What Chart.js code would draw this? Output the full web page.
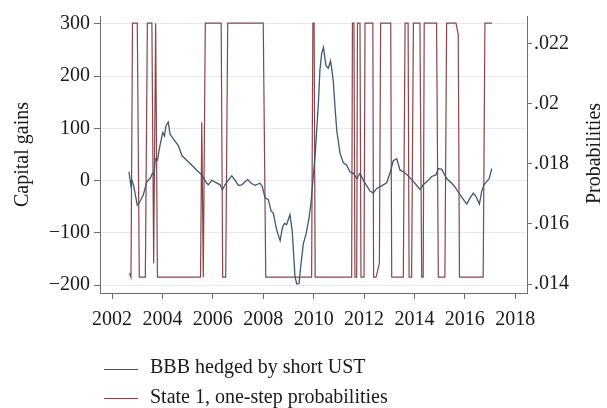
<!DOCTYPE html>
<html>
<head>
<meta charset="utf-8">
<title>Capital gains and state 1 probabilities</title>
<script src="https://cdn.jsdelivr.net/npm/chart.js@4.4.0/dist/chart.umd.min.js"></script>
<style>
    body { margin: 0; background: #fff; }
    #wrap { position: relative; width: 607px; height: 408px; }
    #chart { position: absolute; left: 0; top: 0; }
    .legend-row { position: absolute; left: 104px; height: 20px; font: 20px "Liberation Serif", serif; line-height: 20px; color: #1a1a1a; white-space: nowrap; }
    .legend-row .swatch { position: absolute; left: 0; width: 34px; height: 0; border-top: 1.3px solid; }
    .legend-row .label { position: absolute; left: 46px; top: 0; }
</style>
</head>
<body>
<div id="wrap">
    <canvas id="chart" width="607" height="408"></canvas>
    <div class="legend-row" style="top:356px"><span class="swatch" style="top:13px;border-color:#3d5872"></span><span class="label">BBB hedged by short UST</span></div>
    <div class="legend-row" style="top:386px"><span class="swatch" style="top:12px;border-color:#8b4449"></span><span class="label">State 1, one-step probabilities</span></div>
</div>
<script>
// Data

// BBB hedged by short UST (capital gains, left axis)
const bbbYears = [
    2002.67, 2002.74, 2002.78, 2002.85, 2003.00, 2003.11, 2003.24, 2003.38, 2003.51, 2003.60,
    2003.67, 2003.71, 2003.80, 2003.90, 2004.01, 2004.08, 2004.14, 2004.23, 2004.30, 2004.43,
    2004.63, 2004.77, 2004.96, 2005.16, 2005.36, 2005.56, 2005.76, 2005.82, 2005.96, 2006.09,
    2006.29, 2006.38, 2006.48, 2006.62, 2006.75, 2006.88, 2007.01, 2007.15, 2007.28, 2007.38,
    2007.52, 2007.67, 2007.87, 2007.96, 2008.07, 2008.20, 2008.31, 2008.40, 2008.50, 2008.58,
    2008.67, 2008.76, 2008.84, 2008.93, 2009.06, 2009.15, 2009.26, 2009.33, 2009.42, 2009.50,
    2009.59, 2009.70, 2009.82, 2009.90, 2009.99, 2010.06, 2010.19, 2010.25, 2010.32, 2010.39,
    2010.49, 2010.58, 2010.67, 2010.73, 2010.78, 2010.85, 2010.92, 2011.05, 2011.18, 2011.31,
    2011.44, 2011.58, 2011.71, 2011.84, 2011.97, 2012.11, 2012.24, 2012.37, 2012.50, 2012.70,
    2012.90, 2013.03, 2013.16, 2013.30, 2013.43, 2013.56, 2013.69, 2013.89, 2014.02, 2014.22,
    2014.35, 2014.49, 2014.69, 2014.85, 2014.95, 2015.08, 2015.28, 2015.48, 2015.61, 2015.81,
    2016.08, 2016.21, 2016.34, 2016.44, 2016.58, 2016.67, 2016.76, 2016.87, 2016.97, 2017.07
];
const bbbGains = [
    17, -8, 2, -8, -47, -40, -27, -2, 4, 14,
    11, 42, 39, 67, 92, 86, 105, 112, 89, 80,
    67, 48, 39, 30, 20, 11, -5, -8, 1, -3,
    -8, -18, -8, 1, 9, 1, -9, -8, -2, 2,
    -5, -9, -5, -11, -33, -36, -58, -62, -87, -102,
    -115, -90, -82, -84, -65, -96, -184, -198, -197, -159,
    -121, -102, -71, -40, 11, 48, 149, 212, 243, 255,
    220, 215, 229, 210, 190, 140, 95, 52, 34, 30,
    17, 14, 4, 14, 1, -10, -20, -24, -15, -10,
    -4, 14, 38, 42, 20, 17, 12, 2, -5, -17,
    -8, -2, 8, 11, 23, 22, 4, -5, -12, -27,
    -45, -33, -24, -30, -45, -21, -8, -2, 4, 23
];

// State 1, one-step probabilities (right axis)
const stateYears = [
    2002.69, 2002.75, 2002.81, 2003.00, 2003.08, 2003.32, 2003.40, 2003.58, 2003.65, 2003.73,
    2003.80, 2005.51, 2005.56, 2005.62, 2005.70, 2006.33, 2006.39, 2006.51, 2006.59, 2008.00,
    2008.10, 2009.92, 2009.97, 2010.02, 2010.06, 2011.51, 2011.54, 2011.60, 2011.64, 2011.71,
    2011.74, 2011.84, 2011.88, 2012.00, 2012.04, 2012.35, 2012.38, 2012.48, 2012.61, 2012.66,
    2013.06, 2013.10, 2013.56, 2013.63, 2013.75, 2013.79, 2013.89, 2013.96, 2014.22, 2014.29,
    2014.35, 2014.39, 2014.88, 2014.95, 2015.21, 2015.28, 2015.65, 2015.74, 2015.79, 2016.73,
    2016.80, 2017.08
];
const stateProbs = [
    0.01436, 0.01423, 0.02268, 0.02268, 0.01423, 0.01423, 0.02268, 0.02268, 0.01469, 0.02268,
    0.01423, 0.01423, 0.01938, 0.01423, 0.02268, 0.02268, 0.01423, 0.01423, 0.02268, 0.02268,
    0.01423, 0.01423, 0.02268, 0.02268, 0.01423, 0.01423, 0.02268, 0.02268, 0.01423, 0.01423,
    0.02268, 0.02268, 0.01423, 0.01423, 0.02268, 0.02268, 0.01423, 0.01423, 0.01469, 0.02268,
    0.02268, 0.01423, 0.01423, 0.02268, 0.02268, 0.01423, 0.01423, 0.02268, 0.02268, 0.01423,
    0.01423, 0.02268, 0.02268, 0.01423, 0.01423, 0.02268, 0.02268, 0.02230, 0.01423, 0.01423,
    0.02268, 0.02268
];

// Tick labels
const yearTicks = [2002, 2004, 2006, 2008, 2010, 2012, 2014, 2016, 2018];
const gainTicks = [-200, -100, 0, 100, 200, 300];
const probTicks = [0.014, 0.016, 0.018, 0.02, 0.022];
const probLabels = ['.014', '.016', '.018', '.02', '.022'];

const serif = '"Liberation Serif", "Times New Roman", serif';
const textColor = '#1a1a1a';
const axisColor = '#6e6e6e';

function fixedTicks(values) {
    return function(scale) {
        scale.ticks = values.map(v => ({ value: v }));
    };
}

// right axis title reads bottom-to-top, like the left one
const rightTitle = {
    id: 'rightTitle',
    afterDraw(chart) {
        const ctx = chart.ctx;
        const area = chart.chartArea;
        ctx.save();
        ctx.translate(595, (area.top + area.bottom) / 2 - 1);
        ctx.rotate(-Math.PI / 2);
        ctx.font = '20px ' + serif;
        ctx.fillStyle = textColor;
        ctx.textAlign = 'center';
        ctx.textBaseline = 'middle';
        ctx.fillText('Probabilities', 0, 0);
        ctx.restore();
    }
};

new Chart(document.getElementById('chart').getContext('2d'), {
    type: 'line',
    data: {
        datasets: [{
            label: 'BBB hedged by short UST',
            data: bbbYears.map((yr, i) => ({ x: yr, y: bbbGains[i] })),
            borderColor: '#3d5872',
            borderWidth: 1.3,
            pointRadius: 0,
            tension: 0,
            yAxisID: 'y'
        }, {
            label: 'State 1, one-step probabilities',
            data: stateYears.map((yr, i) => ({ x: yr, y: stateProbs[i] })),
            borderColor: '#8b4449',
            borderWidth: 1.2,
            pointRadius: 0,
            tension: 0,
            yAxisID: 'y1'
        }]
    },
    options: {
        responsive: false,
        animation: false,
        events: [],
        layout: { padding: { top: 12, left: 0, right: 0, bottom: 0 } },
        plugins: {
            legend: { display: false },
            tooltip: { enabled: false }
        },
        scales: {
            x: {
                type: 'linear',
                min: 2001.52,
                max: 2018.47,
                afterBuildTicks: fixedTicks(yearTicks),
                afterFit: s => { s.height = 115; },
                border: { display: true, color: axisColor, width: 1 },
                grid: { drawOnChartArea: false, tickLength: 6, tickColor: axisColor },
                ticks: {
                    font: { family: serif, size: 20 },
                    color: textColor,
                    padding: 9,
                    maxRotation: 0,
                    callback: v => String(v)
                }
            },
            y: {
                type: 'linear',
                position: 'left',
                min: -215.1,
                max: 315.1,
                afterBuildTicks: fixedTicks(gainTicks),
                afterFit: s => { s.width = 100; },
                border: { display: true, color: axisColor, width: 1 },
                grid: { color: '#e7eaed', lineWidth: 1, tickLength: 6, tickColor: axisColor },
                ticks: {
                    font: { family: serif, size: 20 },
                    color: textColor,
                    padding: 4,
                    callback: v => v < 0 ? '\u2212' + Math.abs(v) : String(v)
                },
                title: {
                    display: true,
                    text: 'Capital gains',
                    font: { family: serif, size: 20 },
                    color: textColor,
                    padding: { top: 11, bottom: 0 }
                }
            },
            y1: {
                type: 'linear',
                position: 'right',
                min: 0.013705,
                max: 0.022918,
                afterBuildTicks: fixedTicks(probTicks),
                afterFit: s => { s.width = 80; },
                border: { display: true, color: axisColor, width: 1 },
                grid: { drawOnChartArea: false, tickLength: 5, tickColor: axisColor },
                ticks: {
                    font: { family: serif, size: 20 },
                    color: textColor,
                    padding: 2,
                    callback: v => probLabels[probTicks.indexOf(v)]
                }
            }
        }
    },
    plugins: [rightTitle]
});
</script>
</body>
</html>
